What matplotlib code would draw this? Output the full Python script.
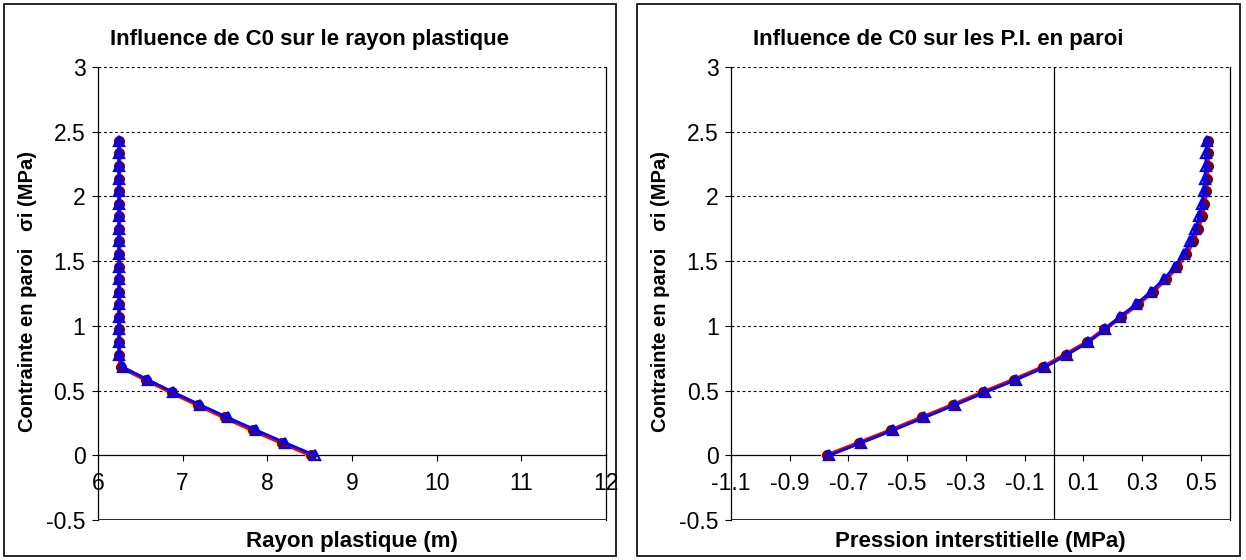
import numpy as np
import matplotlib
matplotlib.use("Agg")
import matplotlib.pyplot as plt
from matplotlib.patches import Rectangle
from matplotlib.ticker import FuncFormatter

plt.rcParams['font.family'] = ['Liberation Sans', 'DejaVu Sans']

W, H = 1246, 560

# wall stress sigma_i (MPa), shared by both charts
sigma = [0.0, 0.097, 0.194, 0.292, 0.389, 0.486, 0.583, 0.681, 0.778, 0.875,
         0.972, 1.069, 1.166, 1.264, 1.361, 1.458, 1.555, 1.652, 1.750, 1.847,
         1.944, 2.041, 2.138, 2.236, 2.333, 2.430]

# plastic radius (m), three C0 cases
rp_yellow = [8.50, 8.15, 7.81, 7.48, 7.16, 6.85, 6.55, 6.26, 6.25, 6.25,
             6.25, 6.25, 6.25, 6.25, 6.25, 6.25, 6.25, 6.25, 6.25, 6.25,
             6.25, 6.25, 6.25, 6.25, 6.25, 6.25]
rp_red = [8.52, 8.17, 7.83, 7.50, 7.18, 6.87, 6.57, 6.27, 6.25, 6.25,
          6.25, 6.25, 6.25, 6.25, 6.25, 6.25, 6.25, 6.25, 6.25, 6.25,
          6.25, 6.25, 6.25, 6.25, 6.25, 6.25]
rp_blue = [8.56, 8.21, 7.87, 7.53, 7.21, 6.89, 6.59, 6.29, 6.25, 6.25,
           6.25, 6.25, 6.25, 6.25, 6.25, 6.25, 6.25, 6.25, 6.25, 6.25,
           6.25, 6.25, 6.25, 6.25, 6.25, 6.25]

# pore pressure at the wall (MPa)
pi_yellow = [-0.775, -0.666, -0.558, -0.452, -0.347, -0.245, -0.140, -0.040, 0.038, 0.112,
             0.170, 0.226, 0.283, 0.334, 0.380, 0.418, 0.449, 0.472, 0.489, 0.502,
             0.511, 0.517, 0.520, 0.522, 0.523, 0.524]
pi_red = [-0.772, -0.663, -0.555, -0.449, -0.344, -0.242, -0.137, -0.037, 0.040, 0.114,
          0.172, 0.228, 0.285, 0.336, 0.382, 0.420, 0.451, 0.474, 0.491, 0.504,
          0.513, 0.519, 0.522, 0.524, 0.525, 0.526]
pi_blue = [-0.765, -0.656, -0.548, -0.442, -0.337, -0.235, -0.130, -0.031, 0.045, 0.117,
           0.173, 0.224, 0.280, 0.330, 0.375, 0.412, 0.442, 0.465, 0.482, 0.495,
           0.504, 0.510, 0.514, 0.517, 0.519, 0.520]

y_ticks = [-0.5, 0, 0.5, 1, 1.5, 2, 2.5, 3]
grid_y = [0.5, 1, 1.5, 2, 2.5, 3]
x_ticks_left = [6, 7, 8, 9, 10, 11, 12]
x_ticks_right = [-1.1, -0.9, -0.7, -0.5, -0.3, -0.1, 0.1, 0.3, 0.5]

titles = ["Influence de C0 sur le rayon plastique",
          "Influence de C0 sur les P.I. en paroi"]
xlabels = ["Rayon plastique (m)", "Pression interstitielle (MPa)"]
ylabel = "Contrainte en paroi   σi (MPa)"

FS_TICK = 16.5
FS_LAB = 16
FS_YLAB = 14.5


def px_axes(x0, x1, y0, y1):
    return [x0 / W, 1 - y1 / H, (x1 - x0) / W, (y1 - y0) / H]


def draw_series(ax, xs_list):
    xy, xr, xb = xs_list
    ax.plot(xy, sigma, color='yellow', lw=2, marker='D', ms=5,
            mfc='yellow', mec='yellow', zorder=3)
    ax.plot(xr, sigma, color='red', lw=3, marker='o', ms=7,
            mfc='#800000', mec='#800000', zorder=4)
    ax.plot(xb, sigma, color='blue', lw=2, marker='^', ms=7,
            mfc='none', mec='blue', mew=1.6, zorder=5)


def style_axes(ax, xlim, xticks):
    ax.set_xlim(*xlim)
    ax.set_ylim(-0.5, 3)
    ax.set_yticks(y_ticks)
    ax.set_xticks(xticks)
    fmt = FuncFormatter(lambda v, p: f"{round(v, 2):g}")
    ax.xaxis.set_major_formatter(fmt)
    ax.yaxis.set_major_formatter(fmt)
    ax.spines['bottom'].set_position(('data', 0))
    ax.spines['top'].set_visible(False)
    for s in ['left', 'right', 'bottom']:
        ax.spines[s].set_linewidth(0.9)
    ax.tick_params(axis='x', direction='out', length=4, pad=8, labelsize=FS_TICK)
    ax.tick_params(axis='y', direction='out', length=4, pad=5, labelsize=FS_TICK)
    ax.axhline(-0.5, color='black', lw=1.2, zorder=1)
    for g in grid_y:
        ax.axhline(g, color='black', lw=0.8, ls=(0, (2.5, 2.5)), zorder=1)


fig = plt.figure(figsize=(W / 100, H / 100), dpi=100)

ax1 = fig.add_axes(px_axes(98, 606, 67, 520))
style_axes(ax1, (6, 12), x_ticks_left)
draw_series(ax1, (rp_yellow, rp_red, rp_blue))

ax2 = fig.add_axes(px_axes(731, 1230, 67, 520))
style_axes(ax2, (-1.1, 0.6), x_ticks_right)
ax2.axvline(0, color='black', lw=0.9, zorder=2)
draw_series(ax2, (pi_yellow, pi_red, pi_blue))

# chart frames, titles and axis labels
for (bx0, bx1), (px0, px1), t, xl in [((4, 616), (98, 606), titles[0], xlabels[0]),
                                      ((637, 1240), (731, 1230), titles[1], xlabels[1])]:
    fig.patches.append(Rectangle((bx0 / W, 1 - 556 / H), (bx1 - bx0) / W, 552 / H,
                                 transform=fig.transFigure, fill=False,
                                 edgecolor='black', lw=1.2))
    fig.text((bx0 + bx1) / 2 / W, 1 - 40 / H, t, ha='center', va='center',
             fontsize=FS_LAB, fontweight='bold')
    fig.text((px0 + px1) / 2 / W, 1 - 541 / H, xl, ha='center', va='center',
             fontsize=FS_LAB, fontweight='bold')
    fig.text((bx0 + 24) / W, 1 - 292 / H, ylabel, ha='center', va='center',
             rotation=90, fontsize=FS_YLAB, fontweight='bold')

fig.savefig("out.png", dpi=100)
